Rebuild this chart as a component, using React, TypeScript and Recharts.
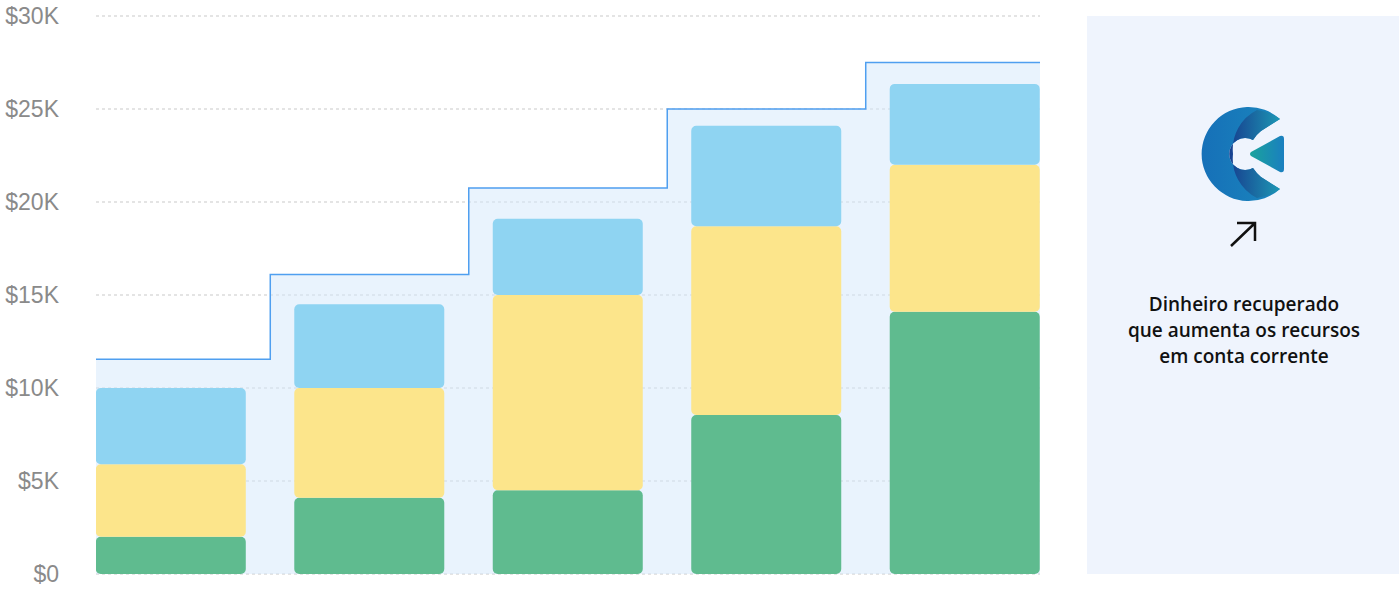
import React from 'react';
import { ComposedChart, Bar, Area, XAxis, YAxis, CartesianGrid } from 'recharts';

// valores em milhares de dólares
const periods = [0, 1, 2, 3, 4];
const greenValues = [2.0, 4.1, 4.5, 8.55, 14.1];
const yellowValues = [3.9, 5.9, 10.5, 10.15, 7.9];
const blueValues = [4.1, 4.5, 4.1, 5.4, 4.35];

// limite em degraus (entre as barras)
const stepEdges = [-0.5, 0.5, 1.5, 2.5, 3.5, 4.5];
const stepLevels = [11.55, 16.1, 20.75, 25.0, 27.5, 27.5];

const yTicks = [0, 5, 10, 15, 20, 25, 30];

const panelLines = ['Dinheiro recuperado', 'que aumenta os recursos', 'em conta corrente'];

const barData = periods.map((p, i) => ({
  x: p,
  green: greenValues[i],
  yellow: yellowValues[i],
  blue: blueValues[i],
}));
const stepData = stepEdges.map((e, i) => ({ x: e, cap: stepLevels[i] }));

const X_DOMAIN: [number, number] = [-0.378, 4.378];

const formatY = (v: number) => (v === 0 ? '$0' : `$${v}K`);

function Logo() {
  return (
    <svg width={100} height={104} viewBox="0 0 100 104">
      <defs>
        <linearGradient id="outerG" x1="0" y1="0" x2="1" y2="0">
          <stop offset="0%" stopColor="#1670b8" />
          <stop offset="100%" stopColor="#1a86bd" />
        </linearGradient>
        <linearGradient id="innerG" x1="0" y1="0" x2="1" y2="0">
          <stop offset="0%" stopColor="#173f8f" />
          <stop offset="100%" stopColor="#1d97b4" />
        </linearGradient>
        <linearGradient id="triG" x1="0" y1="0" x2="1" y2="0">
          <stop offset="0%" stopColor="#1aa39c" />
          <stop offset="100%" stopColor="#1a7fc0" />
        </linearGradient>
      </defs>
      {/* C externo */}
      <path
        d="M 85 17 A 47 47 0 1 0 85 87 L 66 75 Q 62 72 58 66 A 16 16 0 1 1 58 38 Q 62 32 66 29 Z"
        fill="url(#outerG)"
      />
      {/* crescente interno mais escuro */}
      <path
        d="M 85 17 A 47 47 0 0 0 62 8 A 44 44 0 0 0 38 52 A 44 44 0 0 0 62 96 A 47 47 0 0 0 85 87 L 66 75 Q 62 72 58 66 A 16 16 0 1 1 58 38 Q 62 32 66 29 Z"
        fill="url(#innerG)"
      />
      {/* triângulo */}
      <path d="M 56 50 Q 54 52 56 54 L 85 70 Q 89 71 89 67 L 89 37 Q 89 33 85 34 Z" fill="url(#triG)" />
    </svg>
  );
}

export default function App() {
  return (
    <div style={{ position: 'absolute', left: 0, top: 0, width: 1399, height: 591, background: '#fff' }}>
      <div style={{ position: 'absolute', left: 0, top: 0 }}>
        <ComposedChart width={1045} height={591} data={barData} margin={{ top: 16, right: 5, bottom: 17, left: 0 }}>
          <CartesianGrid vertical={false} stroke="#c9c9c9" strokeDasharray="3 3" />
          <XAxis type="number" dataKey="x" domain={X_DOMAIN} ticks={periods} allowDataOverflow hide />
          <XAxis xAxisId="step" type="number" dataKey="x" domain={X_DOMAIN} allowDataOverflow hide />
          <YAxis
            width={96}
            domain={[0, 30]}
            ticks={yTicks}
            tickFormatter={formatY}
            axisLine={false}
            tickLine={false}
            tickSize={0}
            tickMargin={37}
            tick={{ fill: '#8a8a8a', fontSize: 23, fontFamily: 'Liberation Sans, Arial, sans-serif' }}
          />
          <Area
            xAxisId="step"
            data={stepData}
            type="stepAfter"
            dataKey="cap"
            stroke="#4f9ff0"
            strokeWidth={1.5}
            fill="#d4e8fb"
            fillOpacity={0.5}
            dot={false}
            activeDot={false}
            isAnimationActive={false}
          />
          <Bar dataKey="green" stackId="s" fill="#5fbb8f" barSize={150} radius={5} isAnimationActive={false} />
          <Bar dataKey="yellow" stackId="s" fill="#fce58b" barSize={150} radius={5} isAnimationActive={false} />
          <Bar dataKey="blue" stackId="s" fill="#8fd4f2" barSize={150} radius={5} isAnimationActive={false} />
        </ComposedChart>
      </div>

      <div
        style={{
          position: 'absolute',
          left: 1087,
          top: 16,
          width: 312,
          height: 558,
          background: '#eff4fd',
        }}
      >
        <div style={{ position: 'absolute', left: 108, top: 86 }}>
          <Logo />
        </div>
        <svg style={{ position: 'absolute', left: 140, top: 202 }} width={32} height={32}>
          <path d="M 4 28 L 28 5 M 10 5 L 28 5 L 28 23" stroke="#111" strokeWidth={2.5} fill="none" />
        </svg>
        <div
          style={{
            position: 'absolute',
            left: 0,
            top: 275,
            width: 314,
            textAlign: 'center',
            fontFamily: '"Open Sans", sans-serif',
            fontWeight: 600,
            fontSize: 19,
            lineHeight: '26px',
            color: '#111',
          }}
        >
          {panelLines.map((l) => (
            <div key={l}>{l}</div>
          ))}
        </div>
      </div>
    </div>
  );
}
